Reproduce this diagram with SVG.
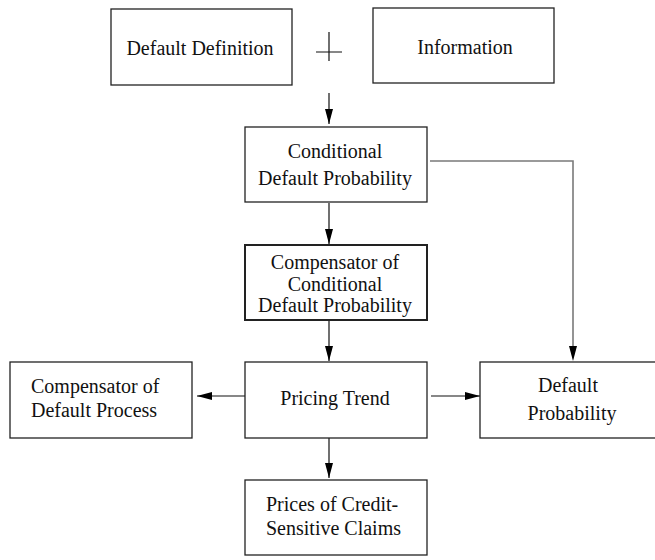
<svg xmlns="http://www.w3.org/2000/svg" width="655" height="560" viewBox="0 0 655 560">
<style>
.box{fill:#fff;stroke:#222;stroke-width:1.3}
.thick{stroke-width:2}
.t{font-family:"Liberation Serif","Times New Roman",serif;font-size:20px;fill:#111}
.c{text-anchor:middle}
.ln{fill:none;stroke:#111;stroke-width:1.2}
.gray{stroke:#7a7a7a;stroke-width:1.6}
</style>
<defs>
<marker id="ah" markerUnits="userSpaceOnUse" markerWidth="16" markerHeight="8" refX="15" refY="4" orient="auto">
<path d="M0,0 L15,4 L0,8 z" fill="#000"/>
</marker>
</defs>
<rect width="655" height="560" fill="#fff"/>
<g id="connectors">
<path class="ln" d="M316,52 H342 M329,32 V61"/>
<line class="ln" x1="329" y1="93" x2="329" y2="124" marker-end="url(#ah)"/>
<line class="ln" x1="329" y1="203" x2="329" y2="244" marker-end="url(#ah)"/>
<line class="ln" x1="329" y1="321" x2="329" y2="361" marker-end="url(#ah)"/>
<polyline class="ln gray" points="430,161 573,161 573,346"/>
<path d="M569,346 L577,346 L573,361 z" fill="#000"/>
<line class="ln" x1="245" y1="396" x2="197" y2="396" marker-end="url(#ah)"/>
<line class="ln" x1="431" y1="396" x2="480" y2="396" marker-end="url(#ah)"/>
<line class="ln" x1="329" y1="438" x2="329" y2="478" marker-end="url(#ah)"/>
</g>
<g id="default-definition">
<rect class="box" x="111" y="9" width="181" height="76"/>
<text class="t c" x="200" y="55">Default Definition</text>
</g>
<g id="information">
<rect class="box" x="373" y="8" width="181" height="75"/>
<text class="t c" x="465" y="54">Information</text>
</g>
<g id="conditional-default-probability">
<rect class="box" x="245" y="127" width="182" height="75"/>
<text class="t c" x="335" y="158">Conditional</text>
<text class="t c" x="335" y="185">Default Probability</text>
</g>
<g id="compensator-conditional">
<rect class="box thick" x="245" y="245" width="182" height="75"/>
<text class="t c" x="335" y="269">Compensator of</text>
<text class="t c" x="335" y="290.5">Conditional</text>
<text class="t c" x="335" y="312">Default Probability</text>
</g>
<g id="compensator-default-process">
<rect class="box" x="10" y="362" width="182" height="76"/>
<text class="t" x="31" y="393">Compensator of</text>
<text class="t" x="31" y="417">Default Process</text>
</g>
<g id="pricing-trend">
<rect class="box" x="245" y="362" width="182" height="76"/>
<text class="t c" x="335" y="405">Pricing Trend</text>
</g>
<g id="default-probability">
<rect class="box" x="480" y="362" width="182" height="76"/>
<text class="t c" x="568" y="392">Default</text>
<text class="t c" x="572" y="420">Probability</text>
</g>
<g id="prices">
<rect class="box" x="245" y="480" width="182" height="75"/>
<text class="t" x="266" y="511">Prices of Credit-</text>
<text class="t" x="266" y="535">Sensitive Claims</text>
</g>
</svg>
